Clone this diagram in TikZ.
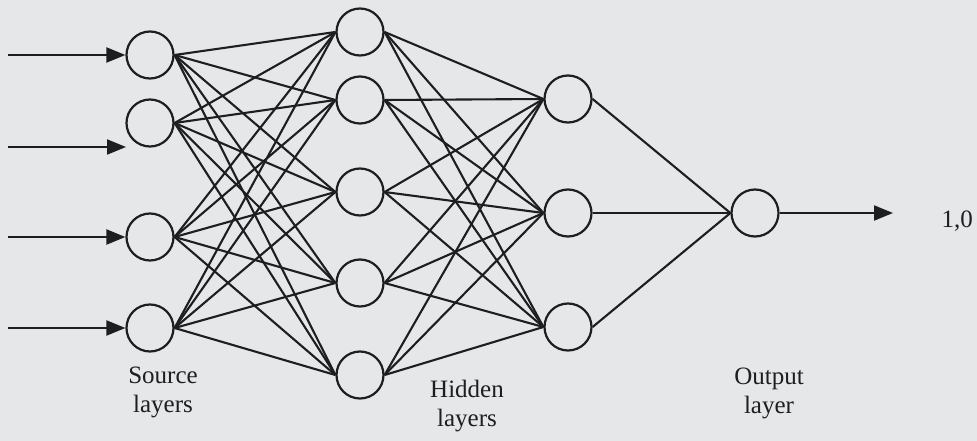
\documentclass[tikz,border=0pt]{standalone}
\usepackage{fontspec}
\setmainfont{Liberation Serif}
\usetikzlibrary{arrows.meta}
\definecolor{bg}{RGB}{229,231,233}
\definecolor{ink}{RGB}{30,30,30}
\begin{document}
\begin{tikzpicture}[x=1pt,y=-1pt,
  neuron/.style={circle,draw=ink,line width=2.2pt,minimum size=47pt,inner sep=0pt},
  link/.style={draw=ink,line width=2.1pt},
  arr/.style={draw=ink,line width=2.1pt,-{Triangle[length=19pt,width=15pt]}},
  lbl/.style={font=\fontsize{25}{29}\selectfont,align=center,text=ink}]
\fill[bg] (0,0) rectangle (977,441);
\useasboundingbox (0,0) rectangle (977,441);
% source layer
\node[neuron] (s1) at (150,55) {};
\node[neuron] (s2) at (150,123) {};
\node[neuron] (s3) at (150,237) {};
\node[neuron] (s4) at (150,328) {};
% hidden layer 1
\node[neuron] (h1) at (360,32) {};
\node[neuron] (h2) at (360,100) {};
\node[neuron] (h3) at (360,192) {};
\node[neuron] (h4) at (360,283) {};
\node[neuron] (h5) at (360,375) {};
% hidden layer 2
\node[neuron] (g1) at (568,99) {};
\node[neuron] (g2) at (568,213) {};
\node[neuron] (g3) at (568,327) {};
% output
\node[neuron] (o) at (755,213) {};
% connections
\foreach \s in {1,2,3,4}{
  \foreach \h in {1,...,5}{
    \draw[link] (s\s.east) -- (h\h.west);
  }
}
\foreach \h in {1,...,5}{
  \foreach \g in {1,2,3}{
    \draw[link] (h\h.east) -- (g\g.west);
  }
}
\foreach \g in {1,2,3}{
  \draw[link] (g\g.east) -- (o.west);
}
% input arrows
\coordinate (i1) at (8,55);
\coordinate (i2) at (8,147);
\coordinate (e2) at (126,147);
\coordinate (i3) at (8,237);
\coordinate (i4) at (8,328);
\draw[arr] (i1) -- (s1.west);
\draw[arr] (i2) -- (e2);
\draw[arr] (i3) -- (s3.west);
\draw[arr] (i4) -- (s4.west);
% output arrow
\coordinate (out) at (893,213);
\draw[arr] (o.east) -- (out);
\node[lbl,anchor=west] (val) at (938,221) {1,0};
% labels
\node[lbl] (lsrc) at (163,392) {Source\\layers};
\node[lbl] (lhid) at (467,406) {Hidden\\layers};
\node[lbl] (lout) at (769,393) {Output\\layer};
\end{tikzpicture}
\end{document}
